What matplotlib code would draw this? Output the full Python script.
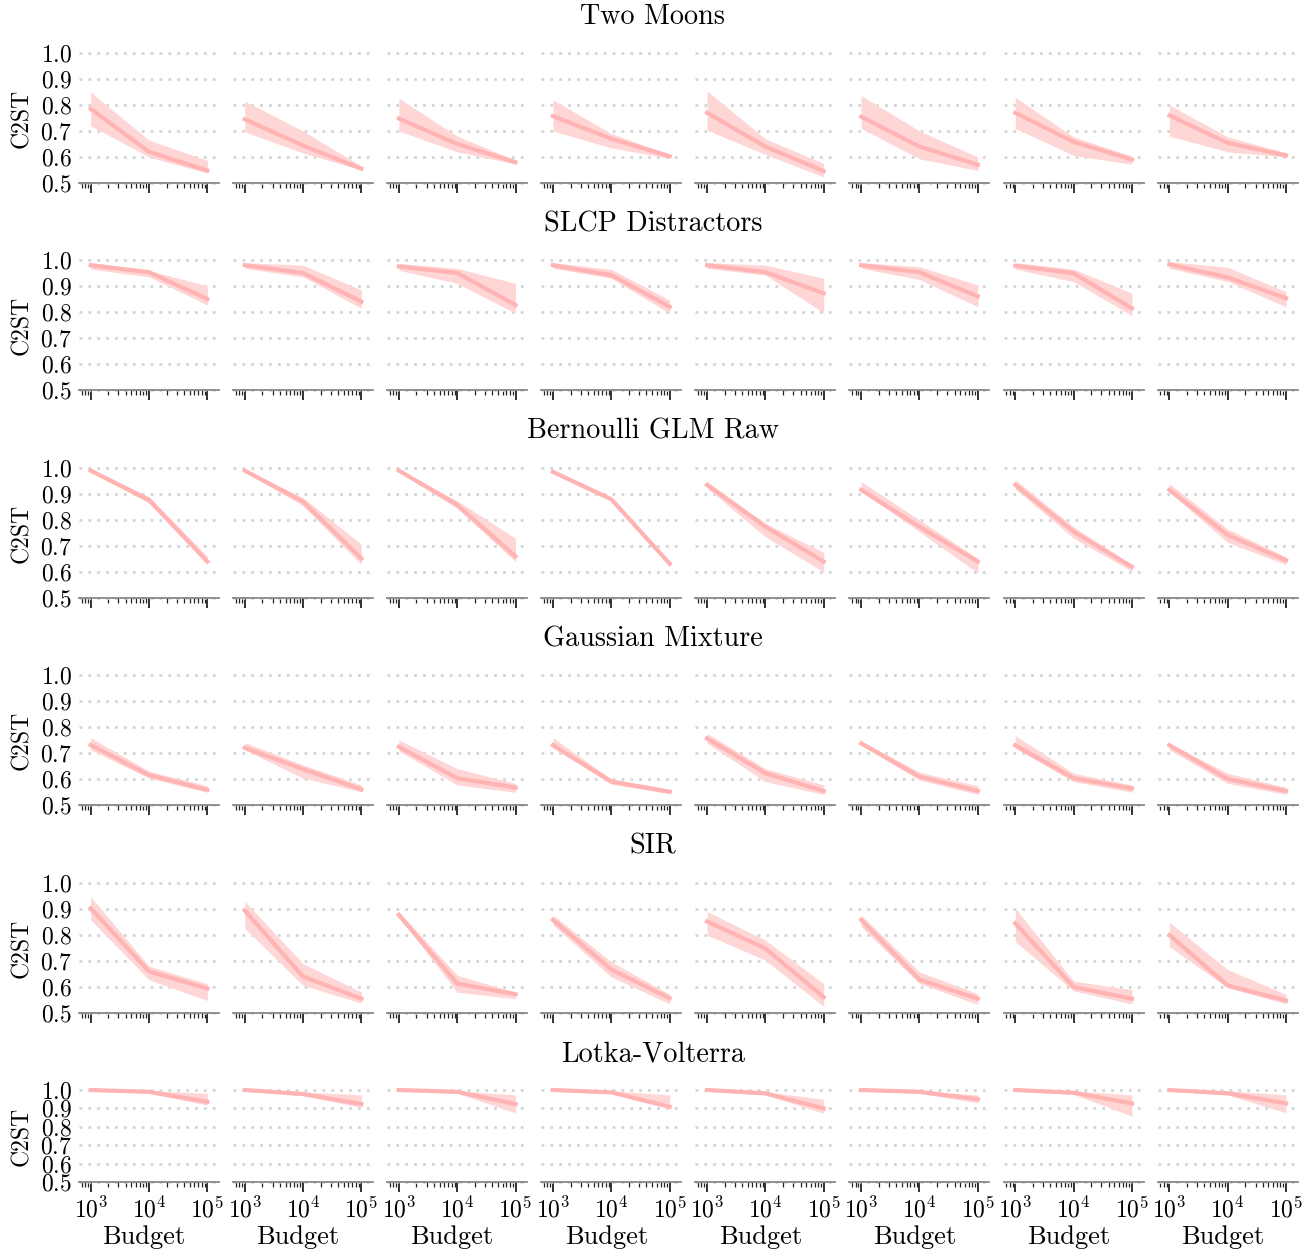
import numpy as np
import matplotlib.pyplot as plt
from matplotlib.ticker import LogLocator, NullFormatter

plt.rcParams.update({
    'font.family': 'serif',
    'font.serif': ['cmr10'],
    'mathtext.fontset': 'cm',
    'axes.formatter.use_mathtext': True,
})

budgets = [1e3, 1e4, 1e5]
task_names = ['Two Moons', 'SLCP Distractors', 'Bernoulli GLM Raw',
              'Gaussian Mixture', 'SIR', 'Lotka-Volterra']

# C2ST per panel (8 panels per task) at budgets 1e3, 1e4, 1e5
two_moons_mean = [[0.785, 0.62, 0.548], [0.745, 0.644, 0.555], [0.748, 0.65, 0.58], [0.757, 0.67, 0.603],
                  [0.77, 0.64, 0.546], [0.755, 0.64, 0.57], [0.77, 0.658, 0.59], [0.76, 0.654, 0.606]]
two_moons_lo = [[0.72, 0.60, 0.538], [0.697, 0.615, 0.55], [0.70, 0.62, 0.573], [0.70, 0.635, 0.595],
                [0.703, 0.61, 0.523], [0.71, 0.593, 0.548], [0.71, 0.606, 0.572], [0.68, 0.62, 0.60]]
two_moons_hi = [[0.85, 0.665, 0.587], [0.815, 0.70, 0.565], [0.826, 0.68, 0.588], [0.82, 0.69, 0.61],
                [0.854, 0.67, 0.575], [0.836, 0.70, 0.60], [0.83, 0.677, 0.604], [0.80, 0.677, 0.617]]

slcp_mean = [[0.98, 0.953, 0.85], [0.98, 0.95, 0.84], [0.975, 0.95, 0.827], [0.98, 0.942, 0.82],
             [0.98, 0.953, 0.872], [0.98, 0.953, 0.86], [0.978, 0.949, 0.814], [0.983, 0.933, 0.853]]
slcp_lo = [[0.965, 0.935, 0.827], [0.968, 0.935, 0.814], [0.96, 0.91, 0.795], [0.968, 0.93, 0.795],
           [0.968, 0.942, 0.797], [0.968, 0.925, 0.82], [0.965, 0.917, 0.786], [0.968, 0.917, 0.82]]
slcp_hi = [[0.99, 0.96, 0.90], [0.99, 0.98, 0.885], [0.987, 0.968, 0.91], [0.99, 0.964, 0.846],
           [0.99, 0.98, 0.93], [0.99, 0.974, 0.904], [0.99, 0.965, 0.872], [0.994, 0.972, 0.878]]

bglm_mean = [[0.99, 0.877, 0.64], [0.99, 0.87, 0.652], [0.99, 0.858, 0.66], [0.985, 0.88, 0.632],
             [0.935, 0.774, 0.64], [0.916, 0.774, 0.64], [0.935, 0.755, 0.62], [0.916, 0.742, 0.645]]
bglm_lo = [[0.985, 0.865, 0.632], [0.985, 0.855, 0.628], [0.985, 0.845, 0.64], [0.98, 0.872, 0.622],
           [0.923, 0.735, 0.60], [0.91, 0.755, 0.597], [0.92, 0.73, 0.603], [0.907, 0.714, 0.628]]
bglm_hi = [[0.995, 0.89, 0.66], [0.995, 0.886, 0.706], [0.995, 0.874, 0.73], [0.99, 0.888, 0.64],
           [0.948, 0.787, 0.675], [0.948, 0.80, 0.652], [0.955, 0.774, 0.628], [0.94, 0.765, 0.658]]

gmix_mean = [[0.731, 0.615, 0.558], [0.72, 0.638, 0.56], [0.724, 0.603, 0.567], [0.73, 0.59, 0.551],
             [0.756, 0.622, 0.554], [0.737, 0.609, 0.554], [0.73, 0.603, 0.564], [0.73, 0.60, 0.554]]
gmix_lo = [[0.712, 0.603, 0.549], [0.712, 0.603, 0.551], [0.708, 0.577, 0.549], [0.72, 0.58, 0.544],
           [0.737, 0.59, 0.541], [0.73, 0.596, 0.541], [0.718, 0.59, 0.549], [0.712, 0.583, 0.541]]
gmix_hi = [[0.759, 0.63, 0.574], [0.74, 0.654, 0.577], [0.75, 0.64, 0.583], [0.759, 0.60, 0.56],
           [0.776, 0.64, 0.577], [0.746, 0.626, 0.574], [0.767, 0.622, 0.577], [0.737, 0.622, 0.568]]

sir_mean = [[0.903, 0.66, 0.594], [0.894, 0.64, 0.555], [0.877, 0.613, 0.572], [0.858, 0.667, 0.557],
            [0.852, 0.748, 0.561], [0.858, 0.628, 0.555], [0.845, 0.60, 0.555], [0.80, 0.606, 0.548]]
sir_lo = [[0.858, 0.628, 0.548], [0.826, 0.606, 0.538], [0.871, 0.58, 0.555], [0.839, 0.639, 0.535],
          [0.80, 0.703, 0.525], [0.832, 0.613, 0.533], [0.774, 0.585, 0.535], [0.755, 0.597, 0.535]]
sir_hi = [[0.948, 0.68, 0.613], [0.929, 0.69, 0.58], [0.89, 0.645, 0.58], [0.877, 0.697, 0.572],
          [0.89, 0.78, 0.613], [0.877, 0.658, 0.574], [0.903, 0.623, 0.59], [0.849, 0.667, 0.572]]

lv_mean = [[1.0, 0.99, 0.936], [1.0, 0.978, 0.924], [1.0, 0.99, 0.924], [1.0, 0.987, 0.909],
           [1.0, 0.982, 0.90], [1.0, 0.99, 0.95], [1.0, 0.985, 0.927], [1.0, 0.982, 0.927]]
lv_lo = [[0.995, 0.982, 0.918], [0.995, 0.969, 0.905], [0.995, 0.982, 0.876], [0.995, 0.98, 0.90],
         [0.995, 0.973, 0.873], [0.995, 0.982, 0.93], [0.995, 0.976, 0.858], [0.995, 0.973, 0.876]]
lv_hi = [[1.0, 0.996, 0.982], [1.0, 0.99, 0.973], [1.0, 0.996, 0.973], [1.0, 0.996, 0.973],
         [1.0, 0.99, 0.95], [1.0, 0.996, 0.973], [1.0, 0.996, 0.973], [1.0, 0.996, 0.973]]

means = [two_moons_mean, slcp_mean, bglm_mean, gmix_mean, sir_mean, lv_mean]
lows = [two_moons_lo, slcp_lo, bglm_lo, gmix_lo, sir_lo, lv_lo]
highs = [two_moons_hi, slcp_hi, bglm_hi, gmix_hi, sir_hi, lv_hi]

W, H = 1306, 1253
fig = plt.figure(figsize=(W / 100, H / 100), dpi=100)

# panel geometry in pixels
row_top = [53, 260, 468, 675, 883, 1090]
row_bot = [183, 390, 598, 805, 1013, 1182]
title_y = [17, 224, 431, 639, 846, 1054]
col_left = [79 + 154.1 * c for c in range(8)]
col_w = 140

line_color = '#ffb3b3'
fill_color = '#ffd6d6'

for r in range(6):
    fig.text(0.5, 1 - title_y[r] / H, task_names[r], ha='center', va='center', fontsize=20.3)
    fig.text(22 / W, 1 - (row_top[r] + row_bot[r]) / 2 / H, 'C2ST', rotation=90,
             ha='center', va='center', fontsize=17)
    for c in range(8):
        ax = fig.add_axes([col_left[c] / W, 1 - row_bot[r] / H, col_w / W,
                           (row_bot[r] - row_top[r]) / H])
        ax.fill_between(budgets, lows[r][c], highs[r][c], color=fill_color, lw=0, clip_on=False)
        ax.plot(budgets, means[r][c], color=line_color, lw=3, clip_on=False)
        ax.set_xscale('log')
        ax.set_xlim(10 ** 2.8, 10 ** 5.2)
        ax.set_ylim(0.5, 1.0)
        ax.set_yticks([0.5, 0.6, 0.7, 0.8, 0.9, 1.0])
        ax.set_xticks([1e3, 1e4, 1e5])
        ax.xaxis.set_minor_locator(LogLocator(base=10, subs=np.arange(2, 10)))
        ax.xaxis.set_minor_formatter(NullFormatter())
        ax.grid(axis='y', color='#d5d5d5', lw=2, linestyle=(0, (1, 2.2)))
        for gl in ax.get_ygridlines():
            gl.set_clip_on(False)
        ax.set_axisbelow(True)
        for s in ['top', 'right', 'left']:
            ax.spines[s].set_visible(False)
        ax.spines['bottom'].set_color('#888888')
        ax.spines['bottom'].set_linewidth(1.3)
        ax.tick_params(axis='y', length=0, pad=5, labelsize=17, labelleft=(c == 0))
        ax.tick_params(axis='x', which='major', length=7, width=1.3, color='#222222',
                       labelsize=17, labelbottom=(r == 5))
        ax.tick_params(axis='x', which='minor', length=3.5, width=0.9, color='#222222')
        if r == 5:
            fig.text((col_left[c] + col_w / 2 - 5) / W, 1 - 1237 / H, 'Budget',
                     ha='center', va='center', fontsize=19)

fig.savefig('out.png', dpi=100)
